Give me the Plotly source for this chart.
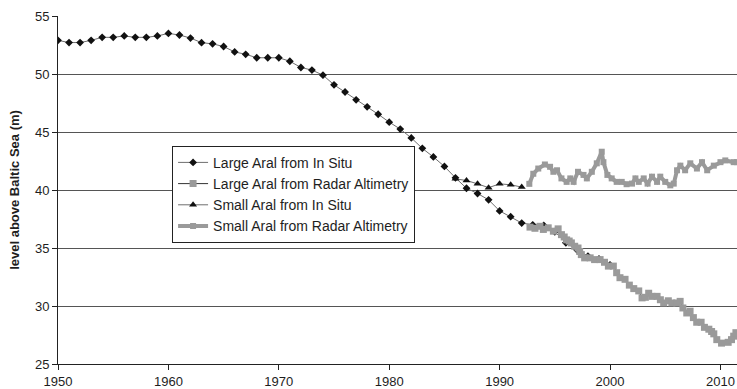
import plotly.graph_objects as go

# ---------------- data ----------------
large_insitu_years = list(range(1950, 2001))
large_insitu_level = [
    52.9, 52.71, 52.71, 52.9, 53.16, 53.16, 53.28, 53.16, 53.16, 53.28,
    53.5, 53.36, 53.1, 52.7, 52.6, 52.37, 51.9, 51.7, 51.4, 51.4,
    51.4, 51.1, 50.56, 50.34, 49.9, 49.07, 48.45, 47.77, 47.17, 46.53,
    45.85, 45.25, 44.49, 43.59, 42.85, 42.03, 41.05, 40.15, 39.7, 39.15,
    38.2, 37.7, 37.15, 37.0, 36.95, 36.4, 35.45, 34.85, 34.3, 34.05,
    33.55,
]

large_radar_years = [
    1992.75, 1993.2, 1993.66, 1993.96, 1994.4, 1994.87, 1995.3, 1995.6,
    1995.85, 1996.07, 1996.3, 1996.5, 1996.8, 1997.1, 1997.25, 1997.4,
    1997.7, 1998.2, 1998.6, 1999.1, 1999.5, 1999.85, 2000.3, 2000.6,
    2000.9, 2001.36, 2001.75, 2002.15, 2002.6, 2002.9, 2003.2, 2003.5,
    2003.8, 2004.26, 2004.56, 2004.86, 2005.28, 2005.6, 2006.04, 2006.35,
    2006.6, 2006.95, 2007.25, 2007.55, 2007.85, 2008.25, 2008.55, 2008.95,
    2009.2, 2009.4, 2009.67, 2010.1, 2010.7, 2011.0, 2011.2, 2011.4,
]
large_radar_level = [
    36.8, 36.7, 36.87, 36.6, 36.74, 36.45, 36.65, 36.15,
    35.95, 35.7, 35.6, 35.44, 35.15, 35.0, 34.7, 34.43,
    34.15, 34.15, 34.0, 34.0, 33.77, 33.44, 33.44, 32.87,
    32.44, 32.3, 31.8, 31.5, 31.3, 30.7, 30.75, 31.1,
    30.83, 30.83, 30.54, 30.26, 30.45, 30.26, 30.26, 30.4,
    29.83, 29.4, 29.55, 29.0, 28.6, 28.6, 28.16, 28.0,
    27.8, 27.6, 27.1, 26.8, 26.87, 27.1, 27.4, 27.7,
]

small_insitu_years = list(range(1986, 1993))
small_insitu_level = [40.96, 40.82, 40.53, 40.2, 40.53, 40.45, 40.25]

small_radar_years = [
    1992.69, 1993.05, 1993.5, 1994.1, 1994.57, 1994.87, 1995.2, 1995.6,
    1996.07, 1996.4, 1996.7, 1997.1, 1997.6, 1997.9, 1998.35, 1998.8,
    1999.25, 1999.4, 1999.76, 2000.15, 2000.6, 2001.06, 2001.5, 2001.99,
    2002.3, 2002.6, 2003.05, 2003.4, 2003.8, 2004.26, 2004.55, 2005.0,
    2005.46, 2005.77, 2006.07, 2006.37, 2006.8, 2007.27, 2007.87, 2008.33,
    2008.8, 2009.4, 2010.0, 2010.44, 2011.2, 2011.5,
]
small_radar_level = [
    40.53, 41.4, 41.85, 42.2, 42.0, 41.57, 41.7, 41.0,
    40.7, 41.0, 40.7, 41.57, 41.3, 41.0, 41.57, 42.3,
    43.3, 42.4, 41.3, 41.0, 40.7, 40.7, 40.5, 40.55,
    41.0, 40.7, 41.0, 40.55, 41.15, 40.7, 41.15, 40.7,
    40.4, 40.55, 41.7, 42.1, 41.7, 42.3, 41.85, 42.4,
    41.7, 42.1, 42.4, 42.55, 42.4, 42.4,
]

x_ticks = [1950, 1960, 1970, 1980, 1990, 2000, 2010]
y_ticks = [25, 30, 35, 40, 45, 50, 55]

names = [
    "Large Aral from In Situ",
    "Large Aral from Radar Altimetry",
    "Small Aral from In Situ",
    "Small Aral from Radar Altimetry",
]

# ---------------- figure ----------------
GRAY = "#9a9a9a"
FONT = "Arial, Liberation Sans, sans-serif"
TXT = "#1e1e1e"

fig = go.Figure()

fig.add_trace(go.Scatter(
    x=large_insitu_years, y=large_insitu_level, name=names[0],
    mode="lines+markers",
    line=dict(color="#6e6e6e", width=1),
    marker=dict(symbol="diamond", size=6, color="#111111"),
))
fig.add_trace(go.Scatter(
    x=large_radar_years, y=large_radar_level, name=names[1],
    mode="lines+markers",
    line=dict(color="#333333", width=1),
    marker=dict(symbol="square", size=7, color=GRAY),
))
fig.add_trace(go.Scatter(
    x=small_insitu_years, y=small_insitu_level, name=names[2],
    mode="lines+markers",
    line=dict(color="#6e6e6e", width=1),
    marker=dict(symbol="triangle-up", size=7, color="#111111"),
))
fig.add_trace(go.Scatter(
    x=small_radar_years, y=small_radar_level, name=names[3],
    mode="lines+markers",
    line=dict(color=GRAY, width=4),
    marker=dict(symbol="square", size=6, color=GRAY),
))

fig.update_layout(
    width=737, height=389,
    margin=dict(l=58, r=0, t=16, b=23),
    paper_bgcolor="white", plot_bgcolor="white",
    font=dict(family=FONT, size=13, color=TXT),
    showlegend=True,
    legend=dict(
        x=0.168, y=0.627, xanchor="left", yanchor="top",
        bgcolor="white", bordercolor="#222222", borderwidth=1,
        font=dict(family=FONT, size=14, color=TXT),
        itemwidth=30, tracegroupgap=0,
    ),
    xaxis=dict(
        range=[1950, 2011.5], tickvals=x_ticks, ticktext=[str(v) for v in x_ticks],
        showgrid=False, zeroline=False,
        showline=True, linecolor="#222222", linewidth=1,
        ticks="outside", ticklen=5, tickcolor="#222222",
        tickfont=dict(family=FONT, size=13, color=TXT),
    ),
    yaxis=dict(
        range=[25, 55], tickvals=y_ticks, ticktext=[str(v) for v in y_ticks],
        showgrid=True, gridcolor="#555555", gridwidth=1, zeroline=False,
        showline=True, linecolor="#222222", linewidth=1,
        ticks="outside", ticklen=5, tickcolor="#222222",
        tickfont=dict(family=FONT, size=13, color=TXT),
        title=dict(text="<b>level above Baltic Sea (m)</b>", standoff=12,
                   font=dict(family=FONT, size=13, color=TXT)),
    ),
)

fig.write_html("out.html", config={"displayModeBar": False})
